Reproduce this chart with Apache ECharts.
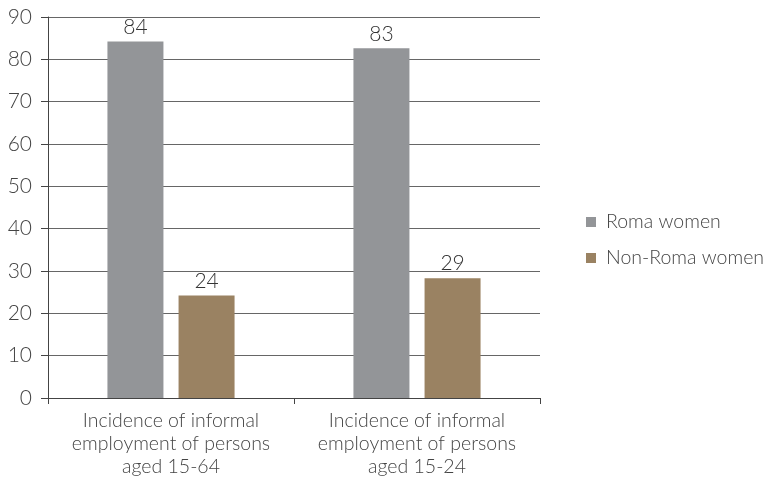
<!DOCTYPE html>
<html><head><meta charset="utf-8">
<script src="https://cdn.jsdelivr.net/npm/echarts@6/dist/echarts.min.js"></script>
<style>html,body{margin:0;padding:0;background:#fff}#c{width:765px;height:478px}</style>
</head><body><div id="c"></div>
<script>
var categories = ['Incidence of informal\nemployment of persons\naged 15-64', 'Incidence of informal\nemployment of persons\naged 15-24'];
var romaValues = [84.2, 82.6];
var romaLabels = ['84', '83'];
var nonRomaValues = [24.2, 28.3];
var nonRomaLabels = ['24', '29'];
var yTicks = [0, 10, 20, 30, 40, 50, 60, 70, 80, 90];

var font = 'Lato';
var chart = echarts.init(document.getElementById('c'));
function lbl(arr){return {show:true,position:'top',distance:4,fontFamily:font,fontWeight:300,fontSize:21,color:'#333',formatter:function(p){return arr[p.dataIndex];}};}
chart.setOption({
  animation:false,
  grid:{left:48,right:225,top:17,bottom:80,containLabel:false},
  legend:{
    orient:'vertical',left:581,top:207,itemWidth:10,itemHeight:10,itemGap:16,
    icon:'rect',
    textStyle:{fontFamily:font,fontWeight:300,fontSize:19.5,color:'#444',padding:[0,0,0,5]},
    data:['Roma women','Non-Roma women']
  },
  xAxis:{
    type:'category',data:categories,
    axisLine:{lineStyle:{color:'#444',width:1}},
    axisTick:{show:true,length:6,interval:0,alignWithLabel:false,lineStyle:{color:'#444'}},
    axisLabel:{interval:0,hideOverlap:false,fontFamily:font,fontWeight:300,fontSize:19.5,color:'#444',lineHeight:23,margin:11}
  },
  yAxis:{
    type:'value',min:0,max:90,interval:10,
    axisLine:{show:true,lineStyle:{color:'#444',width:1}},
    axisTick:{show:true,length:7,lineStyle:{color:'#444'}},
    splitLine:{lineStyle:{color:'#666',width:1}},
    axisLabel:{fontFamily:font,fontWeight:300,fontSize:21,color:'#444',margin:16,
      formatter:function(v){return yTicks.indexOf(v)>=0?String(v):'';}}
  },
  series:[
    {name:'Roma women',type:'bar',data:romaValues,barWidth:56,barGap:'27%',itemStyle:{color:'#939598'},label:lbl(romaLabels)},
    {name:'Non-Roma women',type:'bar',data:nonRomaValues,barWidth:56,itemStyle:{color:'#9a8262'},label:lbl(nonRomaLabels)}
  ]
});
</script></body></html>
